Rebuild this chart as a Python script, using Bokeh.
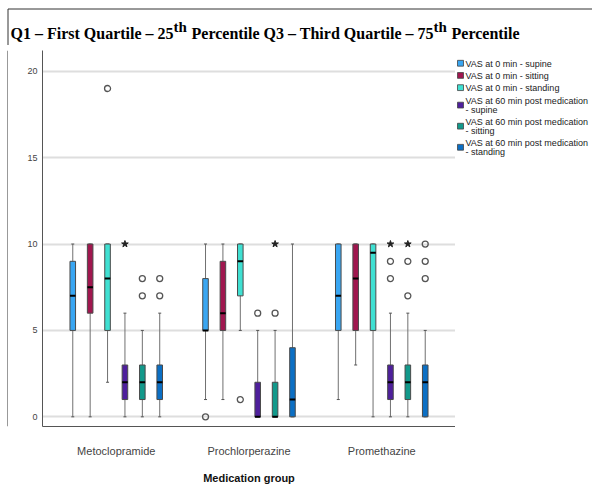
from bokeh.plotting import figure
from bokeh.models import ColumnDataSource, FactorRange, Range1d, FixedTicker
from bokeh.layouts import column, row
from bokeh.core.properties import value
from bokeh.transform import dodge
from bokeh.embed import file_html
from bokeh.resources import INLINE

# ---------------- data ----------------
groups = ["Metoclopramide", "Prochlorperazine", "Promethazine"]
series = [
    "VAS at 0 min - supine",
    "VAS at 0 min - sitting",
    "VAS at 0 min - standing",
    "VAS  at 60 min post medication\n- supine",
    "VAS  at 60 min post medication\n- sitting",
    "VAS  at 60 min post medication\n- standing",
]
colors = ["#39a6f2", "#a0174f", "#3fe0d2", "#4e1f9c", "#12998b", "#0b6fc4"]

# per series, values for [Metoclopramide, Prochlorperazine, Promethazine]
whisker_low = [[0, 1, 1], [0, 1, 3], [2, 5, 0], [0, 0, 0], [0, 0, 0], [0, 0, 0]]
q1_vals     = [[5, 5, 5], [6, 5, 5], [5, 7, 5], [1, 0, 1], [1, 0, 1], [1, 0, 0]]
median_vals = [[7, 5, 7], [7.5, 6, 8], [8, 9, 9.5], [2, 0, 2], [2, 0, 2], [2, 1, 2]]
q3_vals     = [[9, 8, 10], [10, 9, 10], [10, 10, 10], [3, 2, 3], [3, 2, 3], [3, 4, 3]]
whisker_up  = [[10, 10, 10], [10, 10, 10], [10, 10, 10], [6, 5, 6], [5, 5, 6], [6, 10, 5]]

# outliers (circles) and extremes (stars): group, series index, value
outlier_group  = ["Metoclopramide", "Metoclopramide", "Metoclopramide", "Metoclopramide", "Metoclopramide",
                  "Prochlorperazine", "Prochlorperazine", "Prochlorperazine", "Prochlorperazine",
                  "Promethazine", "Promethazine", "Promethazine", "Promethazine",
                  "Promethazine", "Promethazine", "Promethazine"]
outlier_series = [2, 4, 4, 5, 5,
                  0, 2, 3, 4,
                  3, 3, 4, 4, 5, 5, 5]
outlier_value  = [19, 7, 8, 7, 8,
                  0, 1, 6, 6,
                  9, 8, 9, 7, 10, 9, 8]
extreme_group  = ["Metoclopramide", "Prochlorperazine", "Promethazine", "Promethazine"]
extreme_series = [3, 4, 3, 4]
extreme_value  = [10, 10, 10, 10]

y_ticks = [0, 5, 10, 15, 20]

title_parts = ["Q1 \u2013 First Quartile \u2013 25", "th",
               "Percentile Q3 \u2013 Third Quartile \u2013 75", "th", "Percentile"]

# ---------------- layout geometry (canvas pixels) ----------------
W, H = 592, 498
TITLE_H = 45          # height of title strip
STRIP_W = 8           # narrow strip carrying the left frame line
LEG_W = 137           # legend panel width
MAIN_W = W - STRIP_W - LEG_W
MAIN_H = H - TITLE_H
FRAME_L = 42          # canvas x of y axis
FRAME_T = 50          # canvas y of plot top
FRAME_B = 426         # canvas y of x axis
FRAME_R = STRIP_W + MAIN_W
FRAME_COLOR = "#333333"


def blank(width, height, xr, yr):
    f = figure(width=width, height=height, output_backend="svg", toolbar_location=None,
               x_range=Range1d(*xr), y_range=Range1d(*yr), x_axis_type=None, y_axis_type=None,
               min_border=0, min_border_left=0, min_border_right=0, min_border_top=0,
               min_border_bottom=0)
    f.outline_line_color = None
    f.xgrid.visible = False
    f.ygrid.visible = False
    f.background_fill_color = "white"
    f.border_fill_color = "white"
    return f


# ---------------- title strip ----------------
t = blank(W, TITLE_H, (0, W), (TITLE_H, 0))
t.segment(x0=[7.5, 7.5], y0=[8.5, 8.5], x1=[W, 7.5], y1=[8.5, TITLE_H], line_color=FRAME_COLOR,
          line_width=1)
title_x = [10, 173, 191, 433, 451]
title_y = [33, 26, 33, 26, 33]
title_sz = ["16px", "15px", "16px", "15px", "16px"]
t.text(x=title_x, y=title_y, text=title_parts, text_font=value("Liberation Serif"),
       text_font_style="bold", text_font_size=title_sz, text_color="black",
       text_baseline="alphabetic", text_align="left")

# ---------------- left strip ----------------
s = blank(STRIP_W, MAIN_H, (0, STRIP_W), (H, TITLE_H))
s.segment(x0=[7.5], y0=[TITLE_H], x1=[7.5], y1=[H], line_color=FRAME_COLOR, line_width=1)

# ---------------- main plot ----------------
p = figure(width=MAIN_W, height=MAIN_H, output_backend="svg", toolbar_location=None,
           x_range=FactorRange(factors=groups, range_padding=0.0555, range_padding_units="absolute"),
           y_range=Range1d(-0.56, 21.2),
           min_border_left=FRAME_L - STRIP_W, min_border_right=0,
           min_border_top=FRAME_T - TITLE_H, min_border_bottom=H - FRAME_B)
p.outline_line_color = None
p.background_fill_color = "white"
p.border_fill_color = "white"

p.xgrid.grid_line_color = None
p.ygrid.grid_line_color = "#dedede"
p.ygrid.grid_line_width = 2
p.yaxis.ticker = FixedTicker(ticks=y_ticks)

for ax in (p.xaxis[0], p.yaxis[0]):
    ax.axis_line_color = "#555555"
    ax.axis_line_width = 1
    ax.major_tick_line_color = None
    ax.minor_tick_line_color = None
    ax.major_tick_out = 0
    ax.major_tick_in = 0
    ax.major_label_text_font = "Liberation Sans"
    ax.major_label_text_color = "#444444"

p.yaxis.major_label_text_font_size = "9px"
p.yaxis.major_label_standoff = 5
p.xaxis.major_label_text_font_size = "11px"
p.xaxis.major_label_standoff = 18
p.xaxis.axis_label = "Medication group"
p.xaxis.axis_label_text_font = "Liberation Sans"
p.xaxis.axis_label_text_font_style = "bold"
p.xaxis.axis_label_text_font_size = "11px"
p.xaxis.axis_label_text_color = "#111111"
p.xaxis.axis_label_standoff = 12

step = 0.131
box_w = 0.042
for j, name in enumerate(series):
    off = (j - 2.5) * step
    src = ColumnDataSource(dict(group=groups, lw=whisker_low[j], q1=q1_vals[j], med=median_vals[j],
                                q3=q3_vals[j], uw=whisker_up[j]))
    xs = dodge("group", off, range=p.x_range)
    p.segment(x0=xs, y0="lw", x1=xs, y1="uw", source=src, line_color="#707070", line_width=1)
    p.scatter(x=xs, y="lw", source=src, marker="dash", size=3, line_color="#555555")
    p.scatter(x=xs, y="uw", source=src, marker="dash", size=3, line_color="#555555")
    p.vbar(x=xs, width=box_w, bottom="q1", top="q3", source=src,
           fill_color=colors[j], line_color="#4a4a4a", line_width=1)
    p.rect(x=xs, y="med", width=box_w, height=2, height_units="screen", source=src,
           fill_color="black", line_color=None)

    og = [g for g, k in zip(outlier_group, outlier_series) if k == j]
    ov = [v for v, k in zip(outlier_value, outlier_series) if k == j]
    if og:
        osrc = ColumnDataSource(dict(group=og, val=ov))
        p.scatter(x=dodge("group", off, range=p.x_range), y="val", source=osrc, marker="circle",
                  size=6, fill_color=None, line_color="#555555", line_width=1.3)
    eg = [g for g, k in zip(extreme_group, extreme_series) if k == j]
    ev = [v for v, k in zip(extreme_value, extreme_series) if k == j]
    if eg:
        esrc = ColumnDataSource(dict(group=eg, val=ev))
        p.scatter(x=dodge("group", off, range=p.x_range), y="val", source=esrc, marker="star",
                  size=7, fill_color="#222222", line_color="#222222")

# ---------------- legend panel ----------------
lg = blank(LEG_W, MAIN_H, (FRAME_R, W), (H, TITLE_H))
line_h = 10.7
item_gap = 4
sw_x0, sw_w, sw_h = FRAME_R + 2, 6, 7
txt_x = sw_x0 + sw_w + 2
top = 56
sw_l, sw_r, sw_t, sw_b, sw_c = [], [], [], [], []
tx, ty, tt = [], [], []
for j, name in enumerate(series):
    lines = name.split("\n")
    h = len(lines) * line_h
    for k, ln in enumerate(lines):
        tx.append(txt_x)
        ty.append(top + line_h / 2 + k * line_h)
        tt.append(ln)
    cy = top + h / 2 - (1 if len(lines) == 1 else 0)
    sw_l.append(sw_x0)
    sw_r.append(sw_x0 + sw_w)
    sw_t.append(cy - sw_h / 2)
    sw_b.append(cy + sw_h / 2)
    sw_c.append(colors[j])
    top += h + item_gap
lg.quad(left=sw_l, right=sw_r, top=sw_t, bottom=sw_b, fill_color=sw_c, line_color="#444444",
        line_width=0.8)
lg.text(x=tx, y=ty, text=tt, text_font=value("Liberation Sans"), text_font_size="9px",
        text_color="#222222", text_baseline="middle", text_align="left")

layout = column(t, row(s, p, lg, spacing=0), spacing=0)
open("out.html", "w").write(file_html(layout, INLINE))
